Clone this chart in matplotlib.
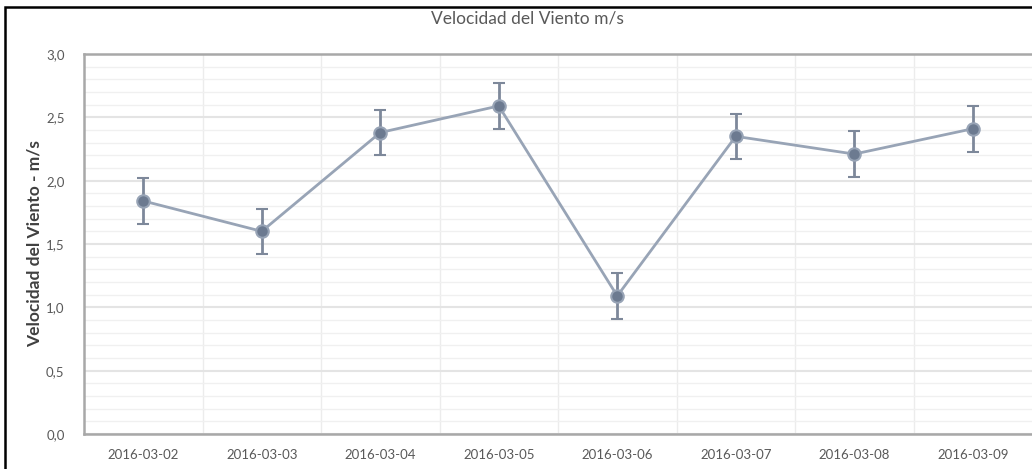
import matplotlib
matplotlib.use("Agg")
import matplotlib.pyplot as plt
from matplotlib.patches import Rectangle
from matplotlib.ticker import MultipleLocator, FixedLocator

dates = ["2016-03-02", "2016-03-03", "2016-03-04", "2016-03-05",
         "2016-03-06", "2016-03-07", "2016-03-08", "2016-03-09"]
speed = [1.84, 1.60, 2.38, 2.59, 1.09, 2.35, 2.21, 2.41]
err = [0.18, 0.18, 0.18, 0.18, 0.18, 0.18, 0.18, 0.18]
yticks = [0.0, 0.5, 1.0, 1.5, 2.0, 2.5, 3.0]
ytick_labels = ["0,0", "0,5", "1,0", "1,5", "2,0", "2,5", "3,0"]

plt.rcParams['font.family'] = ['Lato', 'DejaVu Sans']

fig = plt.figure(figsize=(10.32, 4.69), dpi=100)
ax = fig.add_axes([84/1032, 1-434/469, 1-84/1032, (434-54)/469])

x = list(range(len(dates)))
ax.errorbar(x, speed, yerr=err, color="#98a4b6", lw=2.0,
            marker="o", ms=9, mfc="#6c7a90", mec="#98a4b6", mew=1.5,
            ecolor="#7d889a", elinewidth=2.0, capsize=4, capthick=2.0, zorder=3)

ax.set_xlim(-0.5, len(dates) - 0.5)
ax.set_ylim(0, 3.0)
ax.set_xticks(x)
ax.set_xticklabels(dates, fontsize=9.5, color="#595959")
ax.set_yticks(yticks)
ax.set_yticklabels(ytick_labels, fontsize=9.5, color="#595959")
ax.yaxis.set_minor_locator(MultipleLocator(0.1))
ax.xaxis.set_minor_locator(FixedLocator([i + 0.5 for i in range(len(dates) - 1)]))
ax.grid(which="major", axis="y", color="#e4e4e4", lw=1.5)
ax.grid(which="minor", axis="y", color="#f0f0f0", lw=1.0)
ax.grid(which="minor", axis="x", color="#ececec", lw=1.0)
ax.tick_params(which="both", length=0)
ax.tick_params(axis="x", pad=11)
ax.tick_params(axis="y", pad=14)
ax.set_axisbelow(True)

for s in ["top", "left", "bottom"]:
    ax.spines[s].set_color("#a8a8a8")
    ax.spines[s].set_linewidth(1.8)
ax.spines["right"].set_visible(False)

ax.set_ylabel("Velocidad del Viento - m/s", fontsize=12.5, fontweight="bold",
              color="#404040")
ax.yaxis.set_label_coords(-(84 - 43) / 948, 0.5)
fig.text(527/1032, 1-18/469, "Velocidad del Viento m/s", ha="center", va="center",
         fontsize=12.5, color="#595959")

fig.patches.append(Rectangle((5/1032, -0.1), 1.2, (469-7)/469 + 0.1,
                             transform=fig.transFigure, fill=False,
                             edgecolor="black", lw=1.8))

fig.savefig("out.png", dpi=100)
